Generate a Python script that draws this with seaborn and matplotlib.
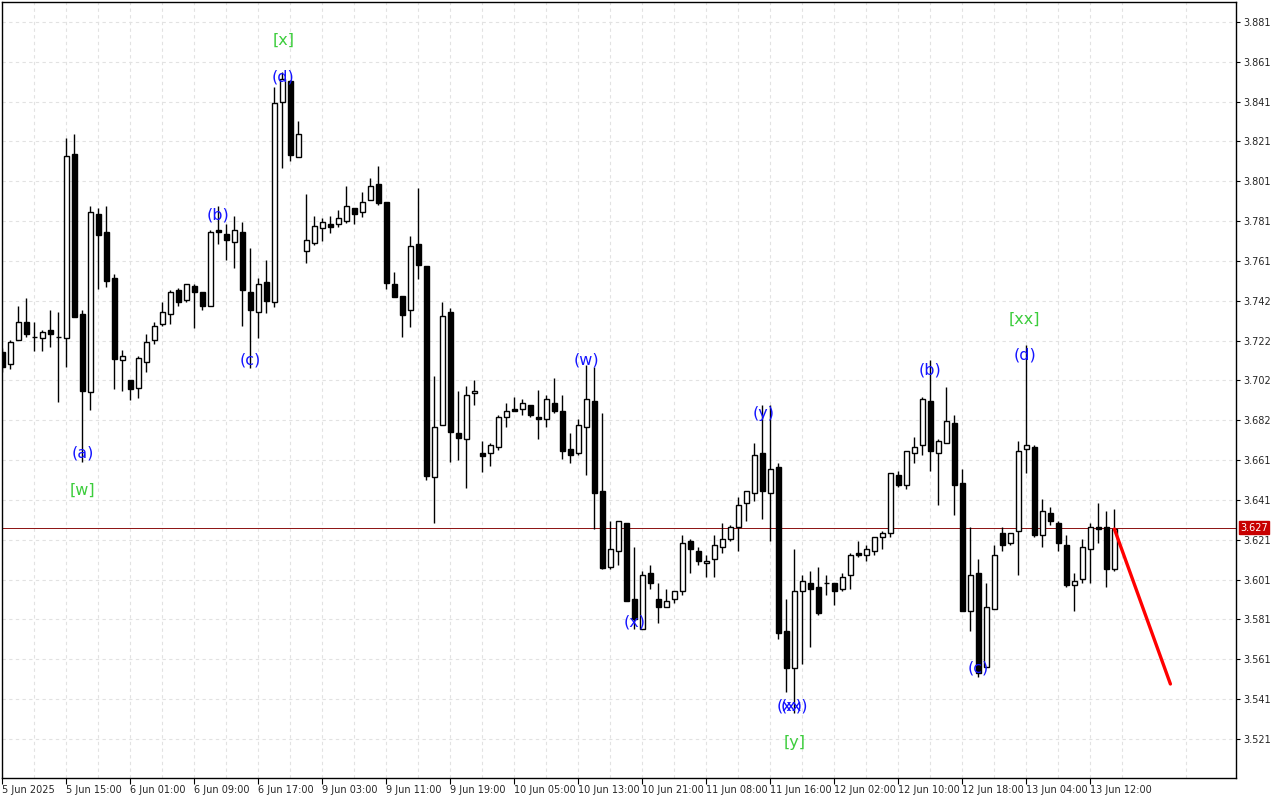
import numpy as np
import pandas as pd
import matplotlib
matplotlib.use("Agg")
import matplotlib.pyplot as plt
import matplotlib.transforms as mtransforms
import seaborn as sns

# ---------------- data (hourly candles) ----------------
opens = [3.7153, 3.7093, 3.7213, 3.7304, 3.7228, 3.7223, 3.7263, 3.7228, 3.7223, 3.8147,
         3.7344, 3.6952, 3.7846, 3.7755, 3.7524, 3.7113, 3.7012, 3.6972, 3.7103, 3.7213,
         3.7294, 3.7344, 3.7464, 3.7414, 3.7484, 3.7454, 3.7384, 3.7765, 3.7745, 3.7705,
         3.7755, 3.7454, 3.7354, 3.7504, 3.7404, 3.8408, 3.8513, 3.8132, 3.7660, 3.7700,
         3.7775, 3.7796, 3.7796, 3.7811, 3.7876, 3.7856, 3.7916, 3.7996, 3.7906, 3.7494,
         3.7434, 3.7364, 3.7695, 3.7585, 3.6526, 3.6787, 3.7354, 3.6746, 3.6716, 3.6947,
         3.6646, 3.6646, 3.6676, 3.6827, 3.6867, 3.6867, 3.6887, 3.6827, 3.6817, 3.6897,
         3.6857, 3.6666, 3.6646, 3.6776, 3.6907, 3.6455, 3.6074, 3.6154, 3.6295, 3.5913,
         3.5762, 3.6044, 3.5913, 3.5873, 3.5913, 3.5953, 3.6204, 3.6154, 3.6094, 3.6114,
         3.6174, 3.6214, 3.6274, 3.6395, 3.6445, 3.6646, 3.6445, 3.6576, 3.5752, 3.5567,
         3.5953, 3.5993, 3.5973, 3.5993, 3.5993, 3.5963, 3.6034, 3.6144, 3.6134, 3.6154,
         3.6224, 3.6244, 3.6536, 3.6485, 3.6646, 3.6686, 3.6907, 3.6646, 3.6696, 3.6797,
         3.6495, 3.5853, 3.6044, 3.5572, 3.5863, 3.6244, 3.6194, 3.6254, 3.6666, 3.6676,
         3.6234, 3.6345, 3.6295, 3.6184, 3.5983, 3.6013, 3.6164, 3.6274, 3.6274, 3.6064]
highs = [3.7173, 3.7213, 3.7384, 3.7424, 3.7304, 3.7263, 3.7364, 3.7354, 3.8227, 3.8247,
         3.7364, 3.7886, 3.7876, 3.7886, 3.7545, 3.7163, 3.7012, 3.7133, 3.7243, 3.7304,
         3.7404, 3.7464, 3.7474, 3.7494, 3.7494, 3.7454, 3.7765, 3.7886, 3.7796, 3.7836,
         3.7806, 3.7675, 3.7524, 3.7615, 3.8483, 3.8559, 3.8518, 3.8313, 3.7946, 3.7836,
         3.7826, 3.7836, 3.7866, 3.7986, 3.7876, 3.7956, 3.8026, 3.8087, 3.7906, 3.7555,
         3.7434, 3.7735, 3.7976, 3.7585, 3.7032, 3.7404, 3.7374, 3.6957, 3.6982, 3.7012,
         3.6706, 3.6696, 3.6837, 3.6897, 3.6927, 3.6917, 3.6887, 3.6962, 3.6937, 3.7022,
         3.6937, 3.6746, 3.6817, 3.7088, 3.7078, 3.6847, 3.6305, 3.6305, 3.6295, 3.6174,
         3.6054, 3.6084, 3.5993, 3.5963, 3.5953, 3.6234, 3.6214, 3.6174, 3.6134, 3.6234,
         3.6295, 3.6285, 3.6425, 3.6455, 3.6696, 3.6887, 3.6887, 3.6596, 3.5913, 3.6164,
         3.6034, 3.6054, 3.6074, 3.6034, 3.5993, 3.6044, 3.6144, 3.6204, 3.6184, 3.6224,
         3.6254, 3.6546, 3.6556, 3.6656, 3.6726, 3.6927, 3.7113, 3.6716, 3.6977, 3.6837,
         3.6566, 3.6274, 3.6114, 3.5993, 3.6184, 3.6274, 3.6244, 3.6706, 3.7188, 3.6686,
         3.6415, 3.6375, 3.6305, 3.6234, 3.6044, 3.6214, 3.6295, 3.6395, 3.6355, 3.6365]
lows = [3.7053, 3.7068, 3.7213, 3.7228, 3.7158, 3.7158, 3.7178, 3.6902, 3.7078, 3.7329,
        3.6601, 3.6862, 3.7469, 3.7479, 3.6967, 3.6957, 3.6912, 3.6922, 3.7053, 3.7193,
        3.7283, 3.7294, 3.7384, 3.7404, 3.7273, 3.7364, 3.7384, 3.7695, 3.7615, 3.7575,
        3.7283, 3.7073, 3.7223, 3.7349, 3.7379, 3.8077, 3.8112, 3.8132, 3.7600, 3.7690,
        3.7710, 3.7750, 3.7780, 3.7801, 3.7796, 3.7831, 3.7916, 3.7891, 3.7469, 3.7429,
        3.7228, 3.7278, 3.7519, 3.6510, 3.6295, 3.6787, 3.6601, 3.6611, 3.6470, 3.6887,
        3.6551, 3.6581, 3.6661, 3.6776, 3.6857, 3.6837, 3.6827, 3.6716, 3.6776, 3.6847,
        3.6616, 3.6596, 3.6636, 3.6536, 3.6264, 3.6064, 3.6064, 3.6084, 3.5903, 3.5762,
        3.5762, 3.5963, 3.5793, 3.5873, 3.5893, 3.5933, 3.6044, 3.6084, 3.6023, 3.6023,
        3.6144, 3.6204, 3.6154, 3.6305, 3.6405, 3.6315, 3.6204, 3.5712, 3.5446, 3.5341,
        3.5587, 3.5672, 3.5833, 3.5933, 3.5883, 3.5953, 3.5963, 3.6124, 3.6104, 3.6134,
        3.6164, 3.6224, 3.6475, 3.6465, 3.6596, 3.6636, 3.6556, 3.6385, 3.6696, 3.6335,
        3.5853, 3.5752, 3.5521, 3.5572, 3.5863, 3.6154, 3.6184, 3.6034, 3.6546, 3.6224,
        3.6174, 3.6285, 3.6154, 3.5973, 3.5853, 3.5993, 3.5993, 3.6194, 3.5973, 3.6054]
closes = [3.7078, 3.7203, 3.7304, 3.7243, 3.7228, 3.7253, 3.7243, 3.7228, 3.8137, 3.7329,
          3.6957, 3.7856, 3.7740, 3.7509, 3.7118, 3.7133, 3.6967, 3.7123, 3.7203, 3.7283,
          3.7354, 3.7454, 3.7404, 3.7494, 3.7454, 3.7384, 3.7755, 3.7755, 3.7715, 3.7765,
          3.7464, 3.7364, 3.7494, 3.7409, 3.8403, 3.8523, 3.8142, 3.8247, 3.7715, 3.7786,
          3.7806, 3.7780, 3.7826, 3.7886, 3.7846, 3.7906, 3.7986, 3.7901, 3.7499, 3.7429,
          3.7339, 3.7685, 3.7590, 3.6531, 3.6776, 3.7334, 3.6751, 3.6721, 3.6937, 3.6957,
          3.6631, 3.6686, 3.6827, 3.6857, 3.6857, 3.6897, 3.6837, 3.6817, 3.6917, 3.6857,
          3.6656, 3.6636, 3.6787, 3.6917, 3.6445, 3.6069, 3.6164, 3.6305, 3.5903, 3.5813,
          3.6034, 3.5993, 3.5873, 3.5903, 3.5953, 3.6194, 3.6164, 3.6104, 3.6104, 3.6184,
          3.6214, 3.6274, 3.6385, 3.6455, 3.6636, 3.6455, 3.6566, 3.5742, 3.5567, 3.5953,
          3.6003, 3.5963, 3.5843, 3.5993, 3.5953, 3.6023, 3.6134, 3.6134, 3.6164, 3.6224,
          3.6244, 3.6546, 3.6485, 3.6656, 3.6676, 3.6917, 3.6656, 3.6706, 3.6807, 3.6485,
          3.5853, 3.6034, 3.5542, 3.5873, 3.6134, 3.6184, 3.6244, 3.6656, 3.6686, 3.6234,
          3.6355, 3.6305, 3.6194, 3.5983, 3.6003, 3.6174, 3.6274, 3.6264, 3.6064, 3.6264]

time_labels = ["5 Jun 2025", "5 Jun 15:00", "6 Jun 01:00", "6 Jun 09:00", "6 Jun 17:00",
               "9 Jun 03:00", "9 Jun 11:00", "9 Jun 19:00", "10 Jun 05:00", "10 Jun 13:00",
               "10 Jun 21:00", "11 Jun 08:00", "11 Jun 16:00", "12 Jun 02:00", "12 Jun 10:00",
               "12 Jun 18:00", "13 Jun 04:00", "13 Jun 12:00"]
price_labels = ["3.521", "3.541", "3.561", "3.581", "3.601", "3.621", "3.641", "3.661",
                "3.682", "3.702", "3.722", "3.742", "3.761", "3.781", "3.801", "3.821",
                "3.841", "3.861", "3.881"]
bid_price = 3.627

# wave labels: text, candle index, price, colour group
wave_text = ["(a)", "[w]", "(b)", "(c)", "(d)", "[x]", "(w)", "(x)", "(y)", "(xx)", "(x)",
             "[y]", "(b)", "(c)", "(d)", "[xx]"]
wave_idx = [10, 10, 27, 31, 35.1, 35.1, 73, 79, 95.1, 98.7, 98.7, 99, 116, 122, 127.8, 127.8]
wave_price = [3.6646, 3.6460, 3.7841, 3.7113, 3.8533, 3.8719, 3.7113, 3.5798, 3.6842,
              3.5376, 3.5376, 3.5190, 3.7063, 3.5567, 3.7138, 3.7319]
wave_group = ["minor", "major", "minor", "minor", "minor", "major", "minor", "minor", "minor",
              "minor", "minor", "major", "minor", "minor", "minor", "major"]

forecast_idx = [139, 146]
forecast_price = [3.6264, 3.5486]

# ---------------- figure ----------------
sns.set_theme(style="white")
plt.rcParams['font.family'] = ['DejaVu Sans']

fig = plt.figure(figsize=(12.8, 8), dpi=100)
fig.patch.set_facecolor("white")
ax = fig.add_axes([2 / 1280, 22 / 800, 1234 / 1280, 776 / 800])
ax.set_facecolor("white")

df = pd.DataFrame({"open": opens, "high": highs, "low": lows, "close": closes})
df["i"] = np.arange(len(df))
df["up"] = df["close"] >= df["open"]
df["bottom"] = df[["open", "close"]].min(axis=1)
df["height"] = (df["close"] - df["open"]).abs()

# wicks
ax.vlines(df["i"], df["low"], df["high"], color="black", lw=1.0, zorder=3)
# bodies
ax.bar(df["i"], df["height"], bottom=df["bottom"], width=0.6,
       color=np.where(df["up"], "white", "black"), edgecolor="black",
       linewidth=1.0, zorder=4)

# bid line
ax.axhline(bid_price, color="#8c1010", lw=0.7, zorder=2)

# forecast line
fc = pd.DataFrame({"i": forecast_idx, "p": forecast_price})
sns.lineplot(data=fc, x="i", y="p", color="#ff0000", lw=2.4, ax=ax, zorder=5)

# wave labels
colors = {"minor": "#1414ff", "major": "#3ccd3c"}
for t, xi, yp, g in zip(wave_text, wave_idx, wave_price, wave_group):
    ax.text(xi, yp, t, color=colors[g], fontsize=11.5, ha="center", va="center", zorder=6)

# axes limits
ax.set_xlim(-0.04, 154.2)
ax.set_ylim(3.5014, 3.8910)
ax.set_xlabel("")
ax.set_ylabel("")

# x ticks
major_x = np.arange(0, 8 * len(time_labels), 8)
ax.set_xticks(major_x)
ax.set_xticklabels(time_labels, ha="left", fontsize=7)
ax.set_xticks(np.arange(4, 155, 8), minor=True)
ax.tick_params(axis="x", which="major", direction="out", length=4, width=0.8,
               color="black", pad=1, bottom=True)
ax.tick_params(axis="x", which="minor", length=0)

# y ticks on the right
ax.yaxis.tick_right()
yt = np.linspace(3.521, 3.881, len(price_labels))
ax.set_yticks(yt)
ax.set_yticklabels(price_labels, fontsize=7)
ax.tick_params(axis="y", which="major", direction="out", length=3, width=0.8,
               color="black", pad=2, right=True, left=False)

# grid
ax.grid(True, axis="y", which="major", color="#e2e2e2", linestyle=(0, (3, 3)), lw=0.8)
ax.grid(True, axis="x", which="both", color="#e2e2e2", linestyle=(0, (3, 3)), lw=0.8)
ax.set_axisbelow(True)

for s in ax.spines.values():
    s.set_visible(True)
    s.set_color("black")
    s.set_linewidth(1.0)

# bid price label box
trans = mtransforms.blended_transform_factory(ax.transAxes, ax.transData)
ax.annotate(f"{bid_price:.3f}", xy=(1.0, bid_price), xycoords=trans,
            xytext=(3, 0), textcoords="offset points", ha="left", va="center",
            fontsize=7, color="white", zorder=10, annotation_clip=False,
            bbox=dict(boxstyle="square,pad=0.15", fc="#c80000", ec="#c80000"))

fig.savefig("out.png", dpi=100, facecolor="white")
